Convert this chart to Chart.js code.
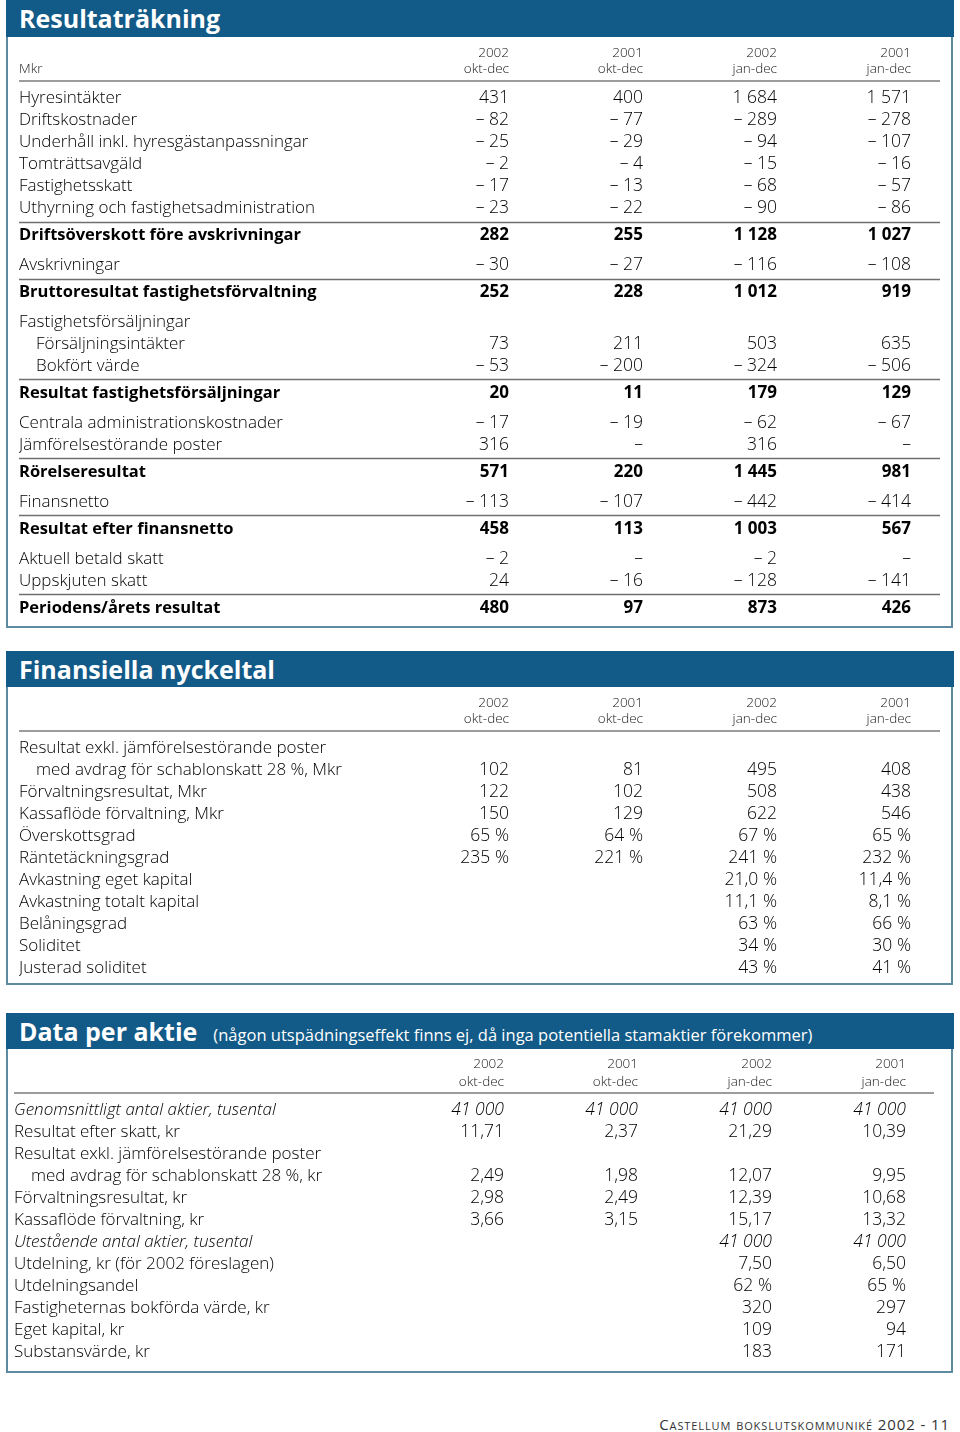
<!DOCTYPE html>
<html><head><meta charset="utf-8">
<script src="https://cdn.jsdelivr.net/npm/chart.js@4.4.0/dist/chart.umd.min.js"></script>
<style>
html,body{margin:0;padding:0;background:#fff;}
body{width:960px;height:1432px;position:relative;overflow:hidden;font-family:"Open Sans",sans-serif;}
.bar{position:absolute;left:6px;width:948px;background:#125a87;color:#fff;box-sizing:border-box;padding-left:13px;white-space:nowrap;}
.bar b{font-weight:700;font-size:25px;}
.bar span{font-size:16.5px;margin-left:16px;font-weight:400;}
.box{position:absolute;left:6px;width:943px;border:2px solid #5b8aa1;border-top:none;}
canvas{position:absolute;left:0;}
.foot{position:absolute;right:10px;top:1414px;font-size:15px;font-variant:small-caps;letter-spacing:0.9px;color:#333;}
</style></head><body>

<div class="bar" style="top:0;height:37px;line-height:37px;"><b>Resultaträkning</b></div>
<div class="box" style="top:37px;height:589px;"></div>
<canvas id="t1" width="960" height="589" style="top:37px"></canvas>

<div class="bar" style="top:651px;height:36px;line-height:36px;"><b>Finansiella nyckeltal</b></div>
<div class="box" style="top:687px;height:296px;"></div>
<canvas id="t2" width="960" height="296" style="top:687px"></canvas>

<div class="bar" style="top:1013px;height:36px;line-height:36px;"><b>Data per aktie</b><span>(någon utspädningseffekt finns ej, då inga potentiella stamaktier förekommer)</span></div>
<div class="box" style="top:1049px;height:322px;"></div>
<canvas id="t3" width="960" height="322" style="top:1049px"></canvas>

<div class="foot">Castellum bokslutskommuniké 2002 - 11</div>

<script>
// ---------- DATA ----------
const periodHeads = [['2002','okt-dec'],['2001','okt-dec'],['2002','jan-dec'],['2001','jan-dec']];

// Resultaträkning (Mkr)
const rows1 = ['Hyresintäkter','Driftskostnader','Underhåll inkl. hyresgästanpassningar','Tomträttsavgäld','Fastighetsskatt','Uthyrning och fastighetsadministration','Driftsöverskott före avskrivningar','Avskrivningar','Bruttoresultat fastighetsförvaltning','Fastighetsförsäljningar','\u2003Försäljningsintäkter','\u2003Bokfört värde','Resultat fastighetsförsäljningar','Centrala administrationskostnader','Jämförelsestörande poster','Rörelseresultat','Finansnetto','Resultat efter finansnetto','Aktuell betald skatt','Uppskjuten skatt','Periodens/årets resultat'];
const kinds1 = ['n','n','n','n','n','n','b','n','b','n','n','n','b','n','n','b','n','b','n','n','b'];
const q2002_1 = [431,-82,-25,-2,-17,-23,282,-30,252,null,73,-53,20,-17,316,571,-113,458,-2,24,480];
const q2001_1 = [400,-77,-29,-4,-13,-22,255,-27,228,null,211,-200,11,-19,0,220,-107,113,0,-16,97];
const y2002_1 = [1684,-289,-94,-15,-68,-90,1128,-116,1012,null,503,-324,179,-62,316,1445,-442,1003,-2,-128,873];
const y2001_1 = [1571,-278,-107,-16,-57,-86,1027,-108,919,null,635,-506,129,-67,0,981,-414,567,0,-141,426];
const dec1 = rows1.map(() => 0);
const unit1 = rows1.map(() => '');

// Finansiella nyckeltal
const rows2 = ['Resultat exkl. jämförelsestörande poster','\u2003med avdrag för schablonskatt 28 %, Mkr','Förvaltningsresultat, Mkr','Kassaflöde förvaltning, Mkr','Överskottsgrad','Räntetäckningsgrad','Avkastning eget kapital','Avkastning totalt kapital','Belåningsgrad','Soliditet','Justerad soliditet'];
const kinds2 = ['n','n','n','n','n','n','n','n','n','n','n'];
const q2002_2 = [null,102,122,150,65,235,null,null,null,null,null];
const q2001_2 = [null,81,102,129,64,221,null,null,null,null,null];
const y2002_2 = [null,495,508,622,67,241,21.0,11.1,63,34,43];
const y2001_2 = [null,408,438,546,65,232,11.4,8.1,66,30,41];
const dec2 = [0,0,0,0,0,0,1,1,0,0,0];
const unit2 = ['','','','','%','%','%','%','%','%','%'];

// Data per aktie
const rows3 = ['Genomsnittligt antal aktier, tusental','Resultat efter skatt, kr','Resultat exkl. jämförelsestörande poster','\u2003med avdrag för schablonskatt 28 %, kr','Förvaltningsresultat, kr','Kassaflöde förvaltning, kr','Utestående antal aktier, tusental','Utdelning, kr (för 2002 föreslagen)','Utdelningsandel','Fastigheternas bokförda värde, kr','Eget kapital, kr','Substansvärde, kr'];
const kinds3 = ['i','n','n','n','n','n','i','n','n','n','n','n'];
const q2002_3 = [41000,11.71,null,2.49,2.98,3.66,null,null,null,null,null,null];
const q2001_3 = [41000,2.37,null,1.98,2.49,3.15,null,null,null,null,null,null];
const y2002_3 = [41000,21.29,null,12.07,12.39,15.17,41000,7.50,62,320,109,183];
const y2001_3 = [41000,10.39,null,9.95,10.68,13.32,41000,6.50,65,297,94,171];
const dec3 = [0,2,0,2,2,2,0,2,0,0,0,0];
const unit3 = ['','','','','','','','','%','','',''];

// ---------- RENDERING ----------
const FONT = '"Open Sans", "Noto Sans", sans-serif';
const REG = '300';
const COLW = 134, ROWPX = 22, AXISH = 44;

function rowPositions(kinds) {
  const p = [0];
  for (let i = 1; i < kinds.length; i++) {
    let s = 1;
    if (kinds[i] === 'b') s += 0.23;
    if (kinds[i-1] === 'b') s += 0.36;
    p.push(p[i-1] + s);
  }
  return p;
}
function rowFont(kind, size) {
  const bold = kind === 'b';
  return {family: FONT, size: bold ? size - 0.5 : size, weight: bold ? '700' : REG, style: kind === 'i' ? 'italic' : 'normal'};
}
function fmt(v, dec, unit) {
  if (v === 0) return '–';
  const neg = v < 0;
  const s = Math.abs(v).toFixed(dec).split('.');
  const ip = s[0].replace(/\B(?=(\d{3})+(?!\d))/g, ' ');
  return (neg ? '– ' : '') + (s[1] ? ip + ',' + s[1] : ip) + (unit ? ' ' + unit : '');
}

function makeTable(id, L, rows, kinds, cols, dec, unit, cornerLabel) {
  const pos = rowPositions(kinds);
  const canvas = document.getElementById(id);
  const H = canvas.height;
  const padBottom = 2;
  const yMin = -17 / ROWPX;
  const yMax = yMin + (H - AXISH - padBottom) / ROWPX;
  const datasets = cols.map((vals, c) => ({
    data: vals.map((v, i) => v === null ? null : {x: c + 1, y: pos[i], v: v, r: i}).filter(Boolean),
    pointRadius: 0, pointHoverRadius: 0, showLine: false
  }));
  const cellPlugin = {
    id: 'cells' + id,
    afterDraw(chart) {
      const ctx = chart.ctx, area = chart.chartArea, ys = chart.scales.y;
      ctx.save();
      ctx.strokeStyle = '#9c9c9c'; ctx.lineWidth = 2;
      ctx.beginPath(); ctx.moveTo(L.labelX, area.top); ctx.lineTo(L.lineEnd, area.top); ctx.stroke();
      ctx.strokeStyle = '#6f6f6f'; ctx.lineWidth = 1.4;
      kinds.forEach((k, i) => {
        if (k === 'b' && i > 0) {
          const y = Math.round((ys.getPixelForValue(pos[i]) + ys.getPixelForValue(pos[i-1])) / 2) + 0.5;
          ctx.beginPath(); ctx.moveTo(L.labelX, y); ctx.lineTo(L.lineEnd, y); ctx.stroke();
        }
      });
      if (cornerLabel) {
        ctx.fillStyle = '#1a1a1a'; ctx.textAlign = 'left'; ctx.textBaseline = 'middle';
        ctx.font = REG + ' 13.5px ' + FONT;
        ctx.fillText(cornerLabel, L.labelX, area.top - L.headPad - L.headLH / 2);
      }
      ctx.fillStyle = '#000'; ctx.textAlign = 'right'; ctx.textBaseline = 'middle';
      chart.data.datasets.forEach((ds, d) => {
        chart.getDatasetMeta(d).data.forEach((el, j) => {
          const raw = ds.data[j];
          const f = rowFont(kinds[raw.r], 17.5);
          ctx.font = f.style + ' ' + f.weight + ' ' + f.size + 'px ' + FONT;
          ctx.fillText(fmt(raw.v, dec[raw.r], unit[raw.r]), el.x, el.y);
        });
      });
      ctx.restore();
    }
  };
  new Chart(canvas, {
    type: 'scatter',
    data: {datasets},
    options: {
      responsive: false, animation: false, devicePixelRatio: 1, events: [],
      layout: {padding: {left: L.labelX, right: 960 - L.rightX, top: 0, bottom: padBottom}},
      plugins: {legend: {display: false}, tooltip: {enabled: false}},
      scales: {
        x: {
          type: 'linear', position: 'top', min: 0, max: 4,
          grid: {display: false, drawTicks: false}, border: {display: false},
          afterBuildTicks: a => { a.ticks = periodHeads.map((h, i) => ({value: i + 1})); },
          afterFit: a => { a.height = AXISH; a.paddingLeft = 0; a.paddingRight = 0; a.paddingTop = 0; a.paddingBottom = 0; },
          ticks: {autoSkip: false, maxRotation: 0, align: 'end', padding: L.headPad, color: '#1a1a1a',
                  font: {family: FONT, size: 13.5, weight: REG, lineHeight: L.headLH + 'px'},
                  callback: (v, i) => periodHeads[i]}
        },
        y: {
          type: 'linear', reverse: true, min: yMin, max: yMax, bounds: 'data',
          grid: {display: false, drawTicks: false}, border: {display: false},
          afterBuildTicks: a => { a.ticks = pos.map(p => ({value: p})); },
          afterFit: a => { a.width = L.rightX - 4 * COLW - L.labelX; a.paddingLeft = 0; a.paddingRight = 0; a.paddingTop = 0; a.paddingBottom = 0; },
          ticks: {autoSkip: false, crossAlign: 'far', padding: 0, color: '#000',
                  font: c => rowFont(kinds[c.index], 17),
                  callback: (v, i) => rows[i]}
        }
      }
    },
    plugins: [cellPlugin]
  });
}

makeTable('t1', {labelX: 19, rightX: 911, lineEnd: 940, headPad: 4, headLH: 16}, rows1, kinds1,
  [q2002_1, q2001_1, y2002_1, y2001_1], dec1, unit1, 'Mkr');
makeTable('t2', {labelX: 19, rightX: 911, lineEnd: 940, headPad: 4, headLH: 16}, rows2, kinds2,
  [q2002_2, q2001_2, y2002_2, y2001_2], dec2, unit2, null);
makeTable('t3', {labelX: 14, rightX: 906, lineEnd: 934, headPad: 2, headLH: 18}, rows3, kinds3,
  [q2002_3, q2001_3, y2002_3, y2001_3], dec3, unit3, null);
</script>
</body></html>
